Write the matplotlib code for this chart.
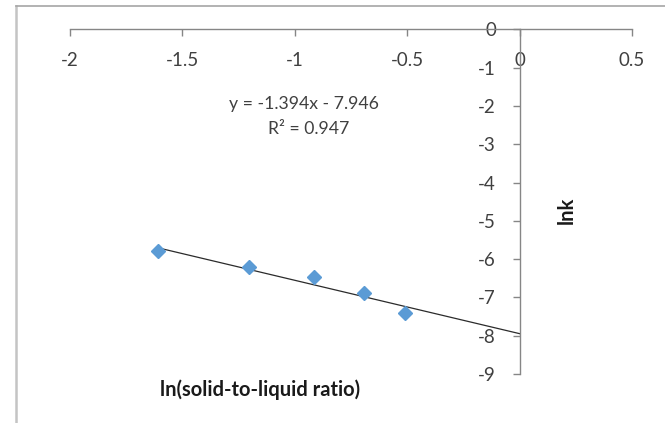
import numpy as np
import matplotlib
matplotlib.use("Agg")
import matplotlib.pyplot as plt
from matplotlib.lines import Line2D

plt.rcParams['font.family'] = ['Lato', 'DejaVu Sans']

# Data
ln_ratio = [-1.609, -1.204, -0.916, -0.693, -0.511]
ln_k = [-5.79, -6.20, -6.47, -6.88, -7.40]
slope = -1.394
intercept = -7.946
r2 = 0.947
x_ticks = [-2, -1.5, -1, -0.5, 0, 0.5]
x_tick_labels = ['-2', '-1.5', '-1', '-0.5', '0', '0.5']
y_ticks = [0, -1, -2, -3, -4, -5, -6, -7, -8, -9]
y_tick_labels = ['0', '-1', '-2', '-3', '-4', '-5', '-6', '-7', '-8', '-9']

W, H = 665, 423
fig = plt.figure(figsize=(W / 100, H / 100), dpi=100)
ax = fig.add_axes([70 / W, 1 - 374 / H, (632 - 70) / W, (374 - 29.5) / H])

ax.set_xlim(-2, 0.5)
ax.set_ylim(-9, 0)

axis_color = '#868686'
label_color = '#404040'

for s in ['top', 'right']:
    ax.spines[s].set_visible(False)
ax.spines['left'].set_position(('data', 0))
ax.spines['bottom'].set_position(('data', 0))
for s in ['left', 'bottom']:
    ax.spines[s].set_color(axis_color)
    ax.spines[s].set_linewidth(1.0)

ax.set_xticks(x_ticks)
ax.set_xticklabels(x_tick_labels)
ax.set_yticks(y_ticks)
ax.set_yticklabels(y_tick_labels)
ax.tick_params(axis='x', direction='out', length=5, width=1.0, color=axis_color,
               labelcolor=label_color, labelsize=13.5, pad=11)
ax.tick_params(axis='y', direction='out', length=5, width=1.0, color=axis_color,
               labelcolor=label_color, labelsize=13.5, pad=12)

# trendline
xl = np.array([min(ln_ratio), 0.0])
ax.plot(xl, slope * xl + intercept, color='#2b2b2b', linewidth=0.9, zorder=2)

# data points
ax.plot(ln_ratio, ln_k, linestyle='none', marker='D', markersize=6.8,
        color='#5B9BD5', markeredgecolor='#5B9BD5', zorder=3, clip_on=False)

# equation text
fig.text(304 / W, 1 - 104 / H, f'y = {slope}x - {abs(intercept)}', ha='center', va='center',
         fontsize=12.7, color='#404040')
fig.text(309 / W, 1 - 129 / H, f'R² = {r2}', ha='center', va='center',
         fontsize=12.7, color='#404040')

# axis titles
fig.text(260 / W, 1 - 390 / H, 'ln(solid-to-liquid ratio)', ha='center', va='center',
         fontsize=14.5, fontweight='bold', color='#1a1a1a')
fig.text(567 / W, 1 - 210 / H, 'lnk', ha='center', va='center', rotation=90,
         fontsize=14.5, fontweight='bold', color='#1a1a1a')

# chart frame (partial, as cropped)
fig.add_artist(Line2D([15.5 / W, 15.5 / W], [0, 1 - 6 / H], transform=fig.transFigure,
                      color='#c4c4c4', linewidth=1.8))
fig.add_artist(Line2D([15.5 / W, 1], [1 - 6 / H, 1 - 6 / H], transform=fig.transFigure,
                      color='#a6a6a6', linewidth=1.2))

fig.savefig('out.png', dpi=100)
